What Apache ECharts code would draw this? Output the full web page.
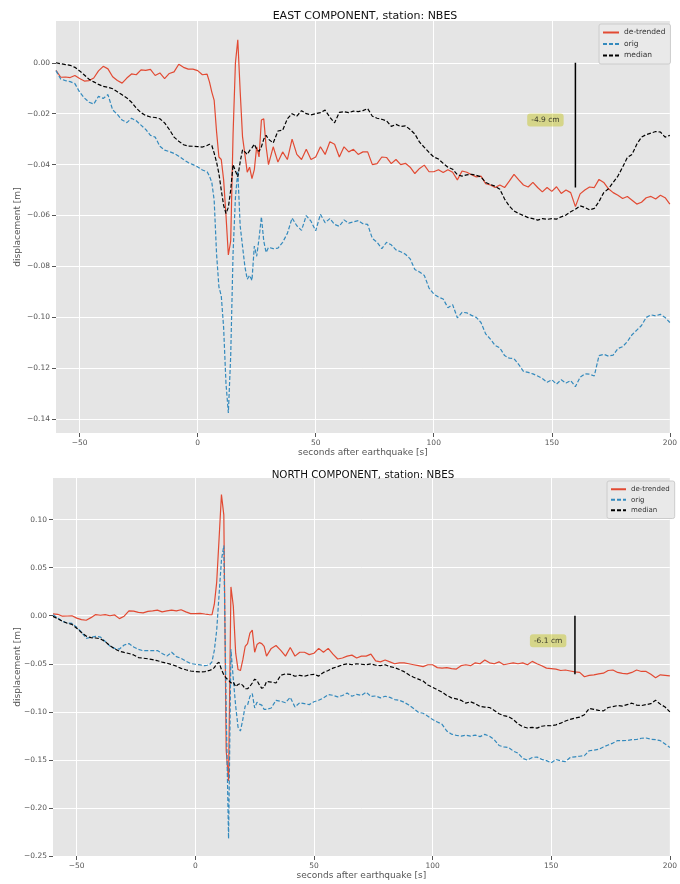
<!DOCTYPE html>
<html>
<head>
<meta charset="utf-8">
<title>GNSS displacement, station NBES</title>
<script src="https://cdn.jsdelivr.net/npm/echarts@6/dist/echarts.min.js"></script>
<style>
  html, body { margin: 0; padding: 0; background: #ffffff; }
  #chart { width: 680px; height: 884px; }
</style>
</head>
<body>
<div id="chart"></div>
<script>
// Seconds after the earthquake (2 s steps, 1 s steps through the strong shaking)
const TIME = [
  -60, -58, -56, -54, -52, -50, -48, -46, -44, -42, -40, -38, -36, -34, -32, -30,
  -28, -26, -24, -22, -20, -18, -16, -14, -12, -10, -8, -6, -4, -2, 0, 2, 4,
  5, 6, 7, 8, 9, 10, 11, 12, 13, 14, 15, 16, 17, 18, 19, 20, 21, 22, 23, 24, 25,
  26, 27, 28, 29, 30,
  32, 34, 36, 38, 40, 42, 44, 46, 48, 50, 52, 54, 56, 58,
  60, 62, 64, 66, 68, 70, 72, 74, 76, 78, 80, 82, 84, 86, 88, 90, 92, 94, 96, 98,
  100, 102, 104, 106, 108, 110, 112, 114, 116, 118, 120, 122, 124, 126, 128, 130,
  132, 134, 136, 138, 140, 142, 144, 146, 148, 150, 152, 154, 156, 158, 160, 162,
  164, 166, 168, 170, 172, 174, 176, 178, 180, 182, 184, 186, 188, 190, 192, 194,
  196, 198, 200
];

// EAST component [m]
const EAST_DETRENDED = [
  -0.0030, -0.0057, -0.0056, -0.0058, -0.0050, -0.0062, -0.0072, -0.0070, -0.0060, -0.0032, -0.0014, -0.0024, -0.0055, -0.0070, -0.0080, -0.0060,
  -0.0044, -0.0047, -0.0028, -0.0030, -0.0026, -0.0050, -0.0040, -0.0062, -0.0042, -0.0036, -0.0006, -0.0018, -0.0025, -0.0025, -0.0031, -0.0047, -0.0045,
  -0.0075, -0.0115, -0.0148, -0.0270, -0.0370, -0.0380, -0.0460, -0.0600, -0.0755, -0.0700, -0.0280, 0.0000, 0.0090, -0.0110, -0.0290, -0.0360, -0.0430, -0.0410, -0.0455, -0.0420, -0.0330,
  -0.0370, -0.0225, -0.0220, -0.0330, -0.0400,
  -0.0330, -0.0390, -0.0350, -0.0380, -0.0300, -0.0360, -0.0380, -0.0340, -0.0380, -0.0370, -0.0330, -0.0360, -0.0310, -0.0320,
  -0.0370, -0.0330, -0.0350, -0.0340, -0.0360, -0.0350, -0.0350, -0.0400, -0.0396, -0.0370, -0.0372, -0.0396, -0.0380, -0.0400, -0.0395, -0.0410, -0.0435, -0.0415, -0.0402, -0.0428,
  -0.0428, -0.0420, -0.0431, -0.0420, -0.0430, -0.0460, -0.0425, -0.0430, -0.0440, -0.0448, -0.0445, -0.0475, -0.0480, -0.0490, -0.0480, -0.0490,
  -0.0465, -0.0438, -0.0460, -0.0480, -0.0488, -0.0470, -0.0490, -0.0507, -0.0490, -0.0505, -0.0487, -0.0513, -0.0500, -0.0510, -0.0565, -0.0515,
  -0.0500, -0.0488, -0.0490, -0.0458, -0.0470, -0.0495, -0.0510, -0.0520, -0.0533, -0.0525, -0.0540, -0.0555, -0.0548, -0.0530, -0.0525, -0.0535,
  -0.0520, -0.0530, -0.0555
];
const EAST_ORIG = [
  -0.0031, -0.0064, -0.0070, -0.0074, -0.0082, -0.0115, -0.0138, -0.0155, -0.0162, -0.0132, -0.0140, -0.0125, -0.0185, -0.0203, -0.0225, -0.0235,
  -0.0218, -0.0228, -0.0245, -0.0262, -0.0285, -0.0292, -0.0328, -0.0343, -0.0349, -0.0356, -0.0367, -0.0380, -0.0392, -0.0400, -0.0409, -0.0421, -0.0428,
  -0.0445, -0.0470, -0.0540, -0.0750, -0.0880, -0.0915, -0.1040, -0.1260, -0.1375, -0.1150, -0.0747, -0.0530, -0.0425, -0.0640, -0.0720, -0.0800, -0.0850, -0.0835, -0.0855, -0.0720, -0.0760,
  -0.0690, -0.0605, -0.0700, -0.0745, -0.0725,
  -0.0730, -0.0728, -0.0705, -0.0670, -0.0610, -0.0640, -0.0658, -0.0600, -0.0622, -0.0660, -0.0595, -0.0628, -0.0612, -0.0635,
  -0.0642, -0.0617, -0.0630, -0.0625, -0.0620, -0.0632, -0.0635, -0.0690, -0.0705, -0.0730, -0.0705, -0.0715, -0.0735, -0.0742, -0.0752, -0.0770, -0.0812, -0.0822, -0.0835, -0.0885,
  -0.0908, -0.0920, -0.0928, -0.0962, -0.0950, -0.1002, -0.0980, -0.0982, -0.0992, -0.1000, -0.1020, -0.1065, -0.1085, -0.1110, -0.1120, -0.1150,
  -0.1160, -0.1162, -0.1185, -0.1212, -0.1216, -0.1222, -0.1230, -0.1240, -0.1255, -0.1245, -0.1262, -0.1245, -0.1258, -0.1248, -0.1272, -0.1235,
  -0.1222, -0.1223, -0.1230, -0.1150, -0.1145, -0.1152, -0.1148, -0.1122, -0.1115, -0.1095, -0.1068, -0.1050, -0.1032, -0.1000, -0.0990, -0.0994,
  -0.0988, -0.1000, -0.1020
];
const EAST_MEDIAN = [
  0.0000, -0.0004, -0.0007, -0.0010, -0.0018, -0.0032, -0.0048, -0.0065, -0.0075, -0.0085, -0.0093, -0.0096, -0.0102, -0.0114, -0.0126, -0.0138,
  -0.0155, -0.0178, -0.0196, -0.0207, -0.0213, -0.0215, -0.0220, -0.0236, -0.0262, -0.0292, -0.0308, -0.0322, -0.0327, -0.0328, -0.0329, -0.0331, -0.0325,
  -0.0320, -0.0325, -0.0355, -0.0390, -0.0435, -0.0500, -0.0560, -0.0592, -0.0568, -0.0500, -0.0400, -0.0425, -0.0448, -0.0390, -0.0342, -0.0350, -0.0360, -0.0345, -0.0334, -0.0320, -0.0340,
  -0.0348, -0.0330, -0.0300, -0.0285, -0.0300,
  -0.0315, -0.0268, -0.0265, -0.0220, -0.0200, -0.0210, -0.0188, -0.0200, -0.0205, -0.0200, -0.0196, -0.0186, -0.0214, -0.0236,
  -0.0195, -0.0192, -0.0196, -0.0190, -0.0192, -0.0188, -0.0180, -0.0210, -0.0218, -0.0222, -0.0228, -0.0250, -0.0242, -0.0250, -0.0248, -0.0262, -0.0280, -0.0312, -0.0332, -0.0352,
  -0.0370, -0.0378, -0.0395, -0.0410, -0.0418, -0.0440, -0.0445, -0.0440, -0.0438, -0.0442, -0.0448, -0.0470, -0.0478, -0.0485, -0.0497, -0.0535,
  -0.0563, -0.0582, -0.0592, -0.0600, -0.0608, -0.0612, -0.0618, -0.0612, -0.0615, -0.0612, -0.0614, -0.0605, -0.0598, -0.0585, -0.0575, -0.0562,
  -0.0568, -0.0578, -0.0572, -0.0545, -0.0510, -0.0495, -0.0470, -0.0445, -0.0410, -0.0372, -0.0360, -0.0320, -0.0292, -0.0282, -0.0276, -0.0270,
  -0.0272, -0.0292, -0.0285
];

// NORTH component [m]
const NORTH_DETRENDED = [
  0.0020, 0.0015, -0.0005, -0.0003, 0.0000, -0.0025, -0.0040, -0.0047, -0.0020, 0.0012, 0.0005, 0.0012, 0.0000, 0.0008, -0.0030, -0.0005,
  0.0050, 0.0048, 0.0035, 0.0030, 0.0045, 0.0050, 0.0058, 0.0040, 0.0050, 0.0058, 0.0050, 0.0062, 0.0040, 0.0022, 0.0021, 0.0025, 0.0018,
  0.0015, 0.0010, 0.0010, 0.0120, 0.0350, 0.0800, 0.1260, 0.1050, -0.1400, -0.1720, 0.0300, 0.0100, -0.0390, -0.0560, -0.0570, -0.0460, -0.0320, -0.0290, -0.0180, -0.0150, -0.0380,
  -0.0300, -0.0280, -0.0290, -0.0320, -0.0420,
  -0.0340, -0.0310, -0.0360, -0.0420, -0.0330, -0.0420, -0.0380, -0.0380, -0.0405, -0.0390, -0.0340, -0.0380, -0.0340, -0.0400,
  -0.0450, -0.0440, -0.0420, -0.0410, -0.0440, -0.0420, -0.0420, -0.0400, -0.0470, -0.0480, -0.0460, -0.0480, -0.0500, -0.0490, -0.0490, -0.0500, -0.0510, -0.0520, -0.0530, -0.0510,
  -0.0510, -0.0540, -0.0545, -0.0540, -0.0550, -0.0555, -0.0520, -0.0510, -0.0520, -0.0490, -0.0500, -0.0460, -0.0490, -0.0500, -0.0480, -0.0510,
  -0.0500, -0.0490, -0.0500, -0.0490, -0.0510, -0.0475, -0.0500, -0.0520, -0.0545, -0.0550, -0.0555, -0.0570, -0.0565, -0.0575, -0.0585, -0.0590,
  -0.0635, -0.0620, -0.0615, -0.0605, -0.0598, -0.0570, -0.0565, -0.0590, -0.0600, -0.0605, -0.0590, -0.0565, -0.0580, -0.0580, -0.0610, -0.0645,
  -0.0615, -0.0620, -0.0625
];
const NORTH_ORIG = [
  0.0010, -0.0024, -0.0058, -0.0075, -0.0080, -0.0120, -0.0170, -0.0235, -0.0225, -0.0215, -0.0222, -0.0268, -0.0315, -0.0340, -0.0347, -0.0305,
  -0.0290, -0.0325, -0.0350, -0.0364, -0.0364, -0.0364, -0.0362, -0.0392, -0.0420, -0.0380, -0.0425, -0.0443, -0.0472, -0.0497, -0.0505, -0.0512, -0.0520,
  -0.0515, -0.0509, -0.0480, -0.0360, -0.0150, 0.0220, 0.0580, 0.0730, -0.1000, -0.2320, -0.0350, -0.0660, -0.0940, -0.1160, -0.1200, -0.1080, -0.0940, -0.0930, -0.0840, -0.0810, -0.0960,
  -0.0900, -0.0920, -0.0930, -0.0975, -0.0975,
  -0.0960, -0.0880, -0.0890, -0.0905, -0.0850, -0.0950, -0.0905, -0.0915, -0.0925, -0.0895, -0.0880, -0.0855, -0.0821, -0.0828,
  -0.0845, -0.0830, -0.0805, -0.0838, -0.0818, -0.0828, -0.0795, -0.0840, -0.0835, -0.0855, -0.0838, -0.0850, -0.0872, -0.0880, -0.0900, -0.0930, -0.0965, -0.1005, -0.1015, -0.1045,
  -0.1080, -0.1105, -0.1130, -0.1200, -0.1232, -0.1245, -0.1252, -0.1244, -0.1252, -0.1242, -0.1258, -0.1234, -0.1255, -0.1290, -0.1350, -0.1365,
  -0.1370, -0.1408, -0.1430, -0.1485, -0.1502, -0.1475, -0.1470, -0.1495, -0.1508, -0.1530, -0.1495, -0.1510, -0.1518, -0.1475, -0.1468, -0.1462,
  -0.1455, -0.1405, -0.1398, -0.1390, -0.1365, -0.1345, -0.1325, -0.1298, -0.1300, -0.1298, -0.1290, -0.1288, -0.1275, -0.1272, -0.1285, -0.1290,
  -0.1300, -0.1335, -0.1370
];
const NORTH_MEDIAN = [
  -0.0007, -0.0030, -0.0058, -0.0078, -0.0090, -0.0130, -0.0175, -0.0212, -0.0228, -0.0232, -0.0240, -0.0270, -0.0310, -0.0345, -0.0370, -0.0382,
  -0.0393, -0.0408, -0.0435, -0.0442, -0.0448, -0.0457, -0.0468, -0.0482, -0.0494, -0.0508, -0.0525, -0.0548, -0.0562, -0.0575, -0.0582, -0.0585, -0.0582,
  -0.0575, -0.0568, -0.0560, -0.0540, -0.0500, -0.0485, -0.0560, -0.0615, -0.0650, -0.0670, -0.0700, -0.0690, -0.0738, -0.0715, -0.0705, -0.0725, -0.0760, -0.0760, -0.0735, -0.0700, -0.0660,
  -0.0675, -0.0720, -0.0755, -0.0745, -0.0685,
  -0.0690, -0.0700, -0.0620, -0.0605, -0.0610, -0.0630, -0.0620, -0.0630, -0.0615, -0.0610, -0.0628, -0.0590, -0.0570, -0.0545,
  -0.0530, -0.0510, -0.0500, -0.0510, -0.0500, -0.0505, -0.0510, -0.0500, -0.0515, -0.0520, -0.0510, -0.0530, -0.0540, -0.0560, -0.0582, -0.0615, -0.0640, -0.0660, -0.0680, -0.0720,
  -0.0745, -0.0770, -0.0795, -0.0830, -0.0855, -0.0865, -0.0880, -0.0910, -0.0895, -0.0915, -0.0945, -0.0950, -0.0955, -0.0985, -0.1020, -0.1040,
  -0.1050, -0.1080, -0.1125, -0.1155, -0.1168, -0.1162, -0.1170, -0.1150, -0.1143, -0.1145, -0.1135, -0.1118, -0.1095, -0.1078, -0.1065, -0.1055,
  -0.1030, -0.0965, -0.0975, -0.0985, -0.0990, -0.0955, -0.0945, -0.0935, -0.0940, -0.0925, -0.0910, -0.0930, -0.0935, -0.0925, -0.0915, -0.0880,
  -0.0920, -0.0950, -0.1000
];

// Final offsets marked at t = 160 s [m]
const OFFSET_TIME = 160;
const EAST_OFFSET = -0.049;
const NORTH_OFFSET = -0.061;
// Where the offset boxes sit: [seconds, metres]
const EAST_OFFSET_LABEL_AT = [147.3, -0.0225];
const NORTH_OFFSET_LABEL_AT = [148.7, -0.026];

// Axis ticks
const X_TICKS = [-50, 0, 50, 100, 150, 200];
const EAST_Y_TICKS = [-0.14, -0.12, -0.10, -0.08, -0.06, -0.04, -0.02, 0.00];
const NORTH_Y_TICKS = [-0.25, -0.20, -0.15, -0.10, -0.05, 0.00, 0.05, 0.10];

const LEGEND_NAMES = ['de-trended', 'orig', 'median'];

const FONT = 'DejaVu Sans';
const RED = '#E24A33';
const BLUE = '#348ABD';
const TICK_GREY = '#555555';

function pairs(xs, ys) {
  return xs.map((x, i) => [x, ys[i]]);
}
function minusSign(s) {
  return s.replace('-', '\u2212');
}
function fmtY(v) {
  return minusSign(v.toFixed(2));
}
function fmtX(v) {
  return minusSign(String(Math.round(v)));
}

function xAxisFor(gridIndex) {
  return {
    type: 'value', gridIndex: gridIndex, min: -60, max: 200,
    axisLine: { show: false, onZero: false },
    axisTick: { show: true, length: 4, customValues: X_TICKS, lineStyle: { color: TICK_GREY, width: 1 } },
    axisLabel: { customValues: X_TICKS, formatter: fmtX, color: TICK_GREY, fontSize: 7.5, fontFamily: FONT, margin: 6 },
    splitLine: { show: true, lineStyle: { color: '#FFFFFF', width: 1 } },
    name: 'seconds after earthquake [s]', nameLocation: 'middle', nameGap: 15,
    nameTextStyle: { color: TICK_GREY, fontSize: 9, fontFamily: FONT }
  };
}
function yAxisFor(gridIndex, min, max, ticks, nameGap) {
  return {
    type: 'value', gridIndex: gridIndex, min: min, max: max,
    axisLine: { show: false, onZero: false },
    axisTick: { show: true, length: 4, customValues: ticks, lineStyle: { color: TICK_GREY, width: 1 } },
    axisLabel: { customValues: ticks, formatter: fmtY, color: TICK_GREY, fontSize: 7.5, fontFamily: FONT, margin: 6 },
    splitLine: { show: true, lineStyle: { color: '#FFFFFF', width: 1 } },
    name: 'displacement [m]', nameLocation: 'middle', nameGap: nameGap, nameRotate: 90,
    nameMoveOverlap: false,
    nameTextStyle: { color: TICK_GREY, fontSize: 9, fontFamily: FONT }
  };
}

function componentSeries(axisIndex, detrended, orig, median, offset, labelAt) {
  const common = { type: 'line', xAxisIndex: axisIndex, yAxisIndex: axisIndex, symbol: 'none', showSymbol: false, animation: false };
  return [
    Object.assign({}, common, {
      name: 'de-trended', data: pairs(TIME, detrended),
      lineStyle: { color: RED, width: 1.2 }, itemStyle: { color: RED }
    }),
    Object.assign({}, common, {
      name: 'orig', data: pairs(TIME, orig),
      lineStyle: { color: BLUE, width: 1.2, type: [4, 2] }, itemStyle: { color: BLUE }
    }),
    Object.assign({}, common, {
      name: 'median', data: pairs(TIME, median),
      lineStyle: { color: '#000000', width: 1.2, type: [4, 2] }, itemStyle: { color: '#000000' }
    }),
    // vertical bar showing the final offset
    Object.assign({}, common, {
      data: [[OFFSET_TIME, 0], [OFFSET_TIME, offset]],
      lineStyle: { color: '#000000', width: 1.5 }, silent: true, z: 4
    }),
    {
      type: 'scatter', xAxisIndex: axisIndex, yAxisIndex: axisIndex, animation: false, silent: true, z: 5,
      data: [labelAt], symbolSize: 1, itemStyle: { color: 'transparent' },
      label: {
        show: true, position: 'inside',
        formatter: (offset * 100).toFixed(1) + ' cm',
        backgroundColor: 'rgba(191,191,0,0.5)', padding: [3, 4, 2, 4], borderRadius: 3,
        color: '#111111', fontSize: 7.5, fontFamily: FONT
      }
    }
  ];
}

function legendFor(left, top, fontSize, itemWidth, itemGap) {
  return {
    data: LEGEND_NAMES, orient: 'vertical', left: left, top: top,
    itemWidth: itemWidth, itemHeight: 8, itemGap: itemGap,
    padding: [4, 5, 4, 3],
    // line-only keys: hide the marker that line series add to their legend icon
    itemStyle: { opacity: 0 },
    backgroundColor: '#E9E9E9', borderColor: '#CCCCCC', borderWidth: 1, borderRadius: 2,
    textStyle: { color: '#333333', fontSize: fontSize, fontFamily: FONT, lineHeight: fontSize + 1.5 },
    selectedMode: false
  };
}

const chart = echarts.init(document.getElementById('chart'), null, { renderer: 'canvas', width: 680, height: 884 });

chart.setOption({
  backgroundColor: '#FFFFFF',
  animation: false,
  title: [
    { text: 'EAST COMPONENT, station: NBES', left: 360, top: 6, textAlign: 'center',
      textStyle: { color: '#111111', fontSize: 11, fontWeight: 'normal', fontFamily: FONT } },
    { text: 'NORTH COMPONENT, station: NBES', left: 358, top: 465, textAlign: 'center',
      textStyle: { color: '#111111', fontSize: 10.3, fontWeight: 'normal', fontFamily: FONT } }
  ],
  legend: [
    legendFor(599, 24, 7.5, 16, 2.5),
    legendFor(607, 481, 7, 15, 2)
  ],
  grid: [
    { left: 56, top: 21, width: 617, height: 412, show: true, backgroundColor: '#E5E5E5', borderWidth: 0 },
    { left: 53, top: 478, width: 620, height: 378, show: true, backgroundColor: '#E5E5E5', borderWidth: 0 }
  ],
  xAxis: [xAxisFor(0), xAxisFor(1)],
  yAxis: [
    yAxisFor(0, -0.1454, 0.0164, EAST_Y_TICKS, 34),
    yAxisFor(1, -0.25, 0.1433, NORTH_Y_TICKS, 31)
  ],
  series: [].concat(
    componentSeries(0, EAST_DETRENDED, EAST_ORIG, EAST_MEDIAN, EAST_OFFSET, EAST_OFFSET_LABEL_AT),
    componentSeries(1, NORTH_DETRENDED, NORTH_ORIG, NORTH_MEDIAN, NORTH_OFFSET, NORTH_OFFSET_LABEL_AT)
  )
});
</script>
</body>
</html>
